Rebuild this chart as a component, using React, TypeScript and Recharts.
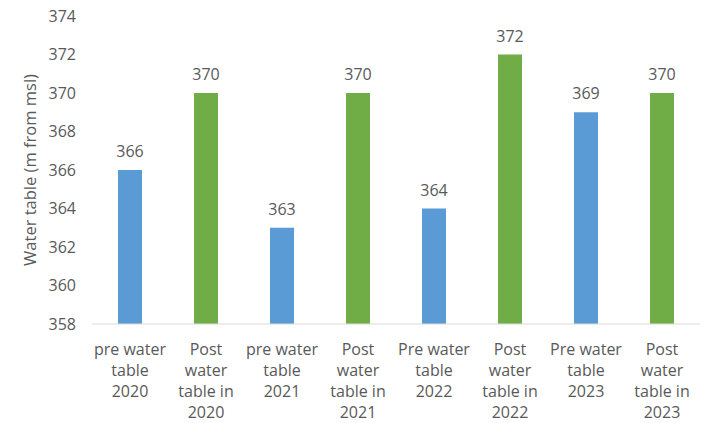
import { BarChart, Bar, XAxis, YAxis, Cell, LabelList, Label } from "recharts";

const categories = [
  "pre water\ntable\n2020",
  "Post\nwater\ntable in\n2020",
  "pre water\ntable\n2021",
  "Post\nwater\ntable in\n2021",
  "Pre water\ntable\n2022",
  "Post\nwater\ntable in\n2022",
  "Pre water\ntable\n2023",
  "Post\nwater\ntable in\n2023",
];
const waterTable = [366, 370, 363, 370, 364, 372, 369, 370];
const yTicks = [358, 360, 362, 364, 366, 368, 370, 372, 374];

const BLUE = "#5B9BD5";
const GREEN = "#70AD47";
const TEXT = "#595959";
const FONT = "'Open Sans', sans-serif";

const data = categories.map((c, i) => ({ name: c, value: waterTable[i] }));

const XTick = ({ x, y, payload }: any) => {
  const lines = String(payload.value).split("\n");
  return (
    <text x={x} y={y} textAnchor="middle" fill={TEXT} fontSize={16} fontFamily={FONT}>
      {lines.map((l, i) => (
        <tspan key={i} x={x} dy={i === 0 ? 23 : 21}>
          {l}
        </tspan>
      ))}
    </text>
  );
};

const YTick = ({ y, payload }: any) => (
  <text x={76} y={y} dy="0.355em" textAnchor="end" fill={TEXT} fontSize={16} fontFamily={FONT}>
    {payload.value}
  </text>
);

export default function App() {
  return (
    <div style={{ position: "absolute", left: 0, top: 0, background: "#fff" }}>
      <BarChart
        width={704}
        height={423}
        data={data}
        margin={{ top: 16, right: 4, bottom: 0, left: 0 }}
      >
        <XAxis
          dataKey="name"
          height={99}
          interval={0}
          tickLine={false}
          axisLine={{ stroke: "#D9D9D9" }}
          tick={<XTick />}
        />
        <YAxis
          width={92}
          domain={[358, 374]}
          ticks={yTicks}
          axisLine={false}
          tickLine={false}
          tick={<YTick />}
        >
          <Label
            value="Water table (m from msl)"
            angle={-90}
            position="insideLeft"
            offset={30}
            fill={TEXT}
            fontSize={16.5}
            fontFamily={FONT}
            style={{ textAnchor: "middle" }}
          />
        </YAxis>
        <Bar dataKey="value" barSize={24} isAnimationActive={false}>
          {data.map((_, i) => (
            <Cell key={i} fill={i % 2 === 0 ? BLUE : GREEN} />
          ))}
          <LabelList
            dataKey="value"
            position="top"
            offset={13}
            fill={TEXT}
            fontSize={16}
            fontFamily={FONT}
          />
        </Bar>
      </BarChart>
    </div>
  );
}
